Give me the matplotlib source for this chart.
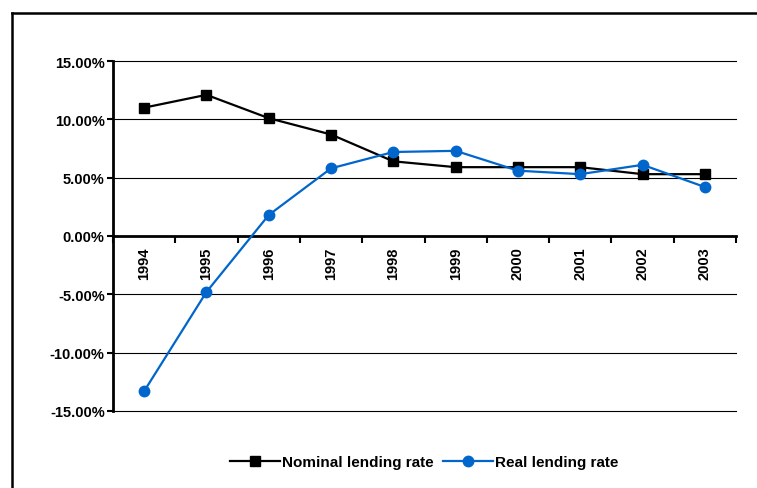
# Nominal vs real lending rate, 1994-2003
import matplotlib
matplotlib.use('Agg')
import matplotlib.pyplot as plt
from matplotlib.lines import Line2D
from matplotlib.ticker import FuncFormatter

years = ['1994', '1995', '1996', '1997', '1998', '1999', '2000', '2001', '2002', '2003']
nominal = [11.0, 12.1, 10.1, 8.7, 6.4, 5.9, 5.9, 5.9, 5.3, 5.3]
real = [-13.3, -4.8, 1.8, 5.8, 7.2, 7.3, 5.6, 5.3, 6.1, 4.2]

plt.rcParams['font.family'] = ['Liberation Sans', 'DejaVu Sans']
plt.rcParams['font.weight'] = 'bold'

fig = plt.figure(figsize=(7.57, 4.89), dpi=100)
ax = fig.add_axes([113 / 757, 1 - 412 / 489, (736 - 113) / 757, (412 - 62) / 489])

x = list(range(len(years)))

# horizontal gridlines
for v in [-15, -10, -5, 5, 10, 15]:
    ax.axhline(v, color='black', lw=0.8, zorder=1, clip_on=False)

ax.plot(x, nominal, color='black', lw=1.6, marker='s', markersize=7,
        label='Nominal lending rate', zorder=3)
ax.plot(x, real, color='#0066CC', lw=1.6, marker='o', markersize=7.5,
        label='Real lending rate', zorder=4)

ax.set_xlim(-0.5, len(years) - 0.5)
ax.set_ylim(-15, 15)
ax.set_yticks([-15, -10, -5, 0, 5, 10, 15])
ax.yaxis.set_major_formatter(FuncFormatter(lambda v, p: f'{v:.2f}%'))
ax.tick_params(axis='y', length=4, width=1.5, labelsize=10.5, pad=2)

ax.spines['top'].set_visible(False)
ax.spines['right'].set_visible(False)
ax.spines['left'].set_linewidth(2)
ax.spines['bottom'].set_position(('data', 0))
ax.spines['bottom'].set_linewidth(2)
ax.spines['bottom'].set_zorder(2)
ax.set_xticks([i - 0.5 for i in range(len(years) + 1)])
ax.set_xticklabels([])
ax.tick_params(axis='x', length=5, width=1.5, direction='out')

for i, yr in enumerate(years):
    ax.text(i, -0.9, yr, rotation=90, ha='center', va='top', fontsize=10.5,
            fontweight='bold')

handles = [Line2D([], [], color='black', lw=1.6, marker='s', markersize=7),
           Line2D([], [], color='#0066CC', lw=1.6, marker='o', markersize=7.5)]
fig.legend(handles, ['Nominal lending rate', 'Real lending rate'],
           loc='center', bbox_to_anchor=(424 / 757, 1 - 463 / 489), ncol=2,
           frameon=False, fontsize=11, handlelength=3.3, handletextpad=0.1,
           columnspacing=0.6)

# outer frame (left and top only visible)
fig.add_artist(Line2D([12 / 757, 12 / 757], [0, 1 - 14 / 489], color='black',
                      lw=1.8, transform=fig.transFigure))
fig.add_artist(Line2D([12 / 757, 1], [1 - 14 / 489, 1 - 14 / 489], color='black',
                      lw=1.8, transform=fig.transFigure))

fig.savefig('out.png', dpi=100)
